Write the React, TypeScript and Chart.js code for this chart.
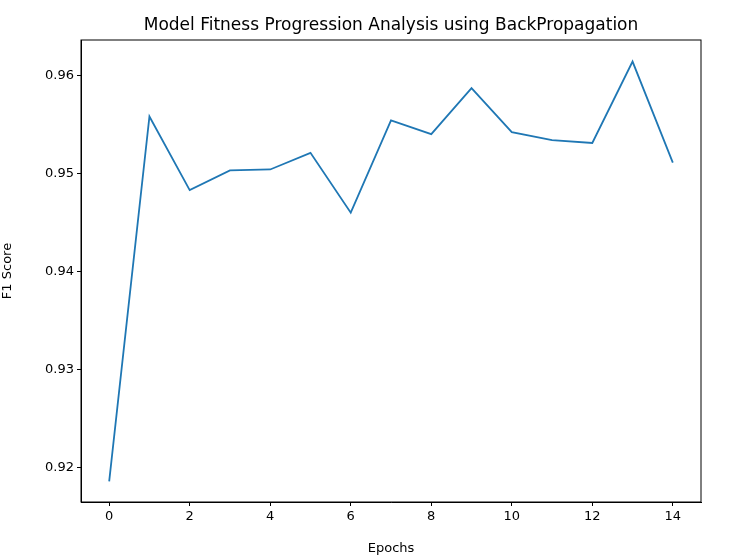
import React, { useEffect, useRef } from 'react';
import { Chart, registerables, ChartConfiguration } from 'chart.js';

Chart.register(...registerables);

const epochs = [0, 1, 2, 3, 4, 5, 6, 7, 8, 9, 10, 11, 12, 13, 14];
const f1Scores = [0.9186, 0.9558, 0.9483, 0.9503, 0.9504, 0.9521, 0.946, 0.9554, 0.954, 0.9587, 0.9542, 0.9534, 0.9531, 0.9614, 0.9511];
const yTicks = [0.92, 0.93, 0.94, 0.95, 0.96];
const xTicks = [0, 2, 4, 6, 8, 10, 12, 14];
const chartTitle = 'Model Fitness Progression Analysis using BackPropagation';

// border around the plot area plus a title centred over it (matplotlib style)
const frame = {
  id: 'frame',
  afterDraw(chart: Chart) {
    const { ctx, chartArea: a } = chart;
    ctx.save();
    ctx.strokeStyle = '#000';
    ctx.lineWidth = 1;
    ctx.strokeRect(a.left, a.top, a.right - a.left, a.bottom - a.top);
    ctx.fillStyle = '#000';
    ctx.font = '17px "DejaVu Sans"';
    ctx.textAlign = 'center';
    ctx.textBaseline = 'alphabetic';
    ctx.fillText(chartTitle, (a.left + a.right) / 2, a.top - 10);
    ctx.restore();
  },
};

const App: React.FC = () => {
  const canvasRef = useRef<HTMLCanvasElement>(null);
  const chartRef = useRef<Chart | null>(null);

  useEffect(() => {
    if (!canvasRef.current) return;
    if (chartRef.current) chartRef.current.destroy();

    const font = { family: 'DejaVu Sans', size: 13 };
    const config: ChartConfiguration = {
      type: 'line',
      data: {
        datasets: [
          {
            data: epochs.map((e, i) => ({ x: e, y: f1Scores[i] })),
            borderColor: '#1f77b4',
            borderWidth: 1.8,
            pointRadius: 0,
            tension: 0,
          },
        ],
      },
      options: {
        responsive: true,
        maintainAspectRatio: false,
        animation: false,
        layout: { padding: { right: 29, left: 0, top: 40 } },
        plugins: {
          legend: { display: false },
          tooltip: { enabled: false },
          title: { display: false },
        },
        scales: {
          x: {
            type: 'linear',
            min: -0.7,
            max: 14.7,
            afterBuildTicks: (s: any) => { s.ticks = xTicks.map(v => ({ value: v })); },
            afterFit: (s: any) => { s.height = 54; },
            title: { display: true, text: 'Epochs', font, color: '#000', padding: 0 },
            grid: { drawOnChartArea: false, tickLength: 4, color: '#000' },
            border: { color: '#000' },
            ticks: { font, color: '#000', maxRotation: 0 },
          },
          y: {
            type: 'linear',
            min: 0.9165,
            max: 0.9636,
            afterBuildTicks: (s: any) => { s.ticks = yTicks.map(v => ({ value: v })); },
            afterFit: (s: any) => { s.width = 81; },
            title: { display: true, text: 'F1 Score', font, color: '#000', padding: 0 },
            grid: { drawOnChartArea: false, tickLength: 4, color: '#000' },
            border: { color: '#000' },
            ticks: { font, color: '#000', callback: (v: any) => Number(v).toFixed(2) },
          },
        },
      },
      plugins: [frame],
    };

    chartRef.current = new Chart(canvasRef.current, config);
    return () => {
      if (chartRef.current) chartRef.current.destroy();
    };
  }, []);

  return (
    <div style={{ position: 'fixed', left: 0, top: 0, width: 730, height: 556, background: '#fff' }}>
      <canvas ref={canvasRef} />
    </div>
  );
};

export default App;
